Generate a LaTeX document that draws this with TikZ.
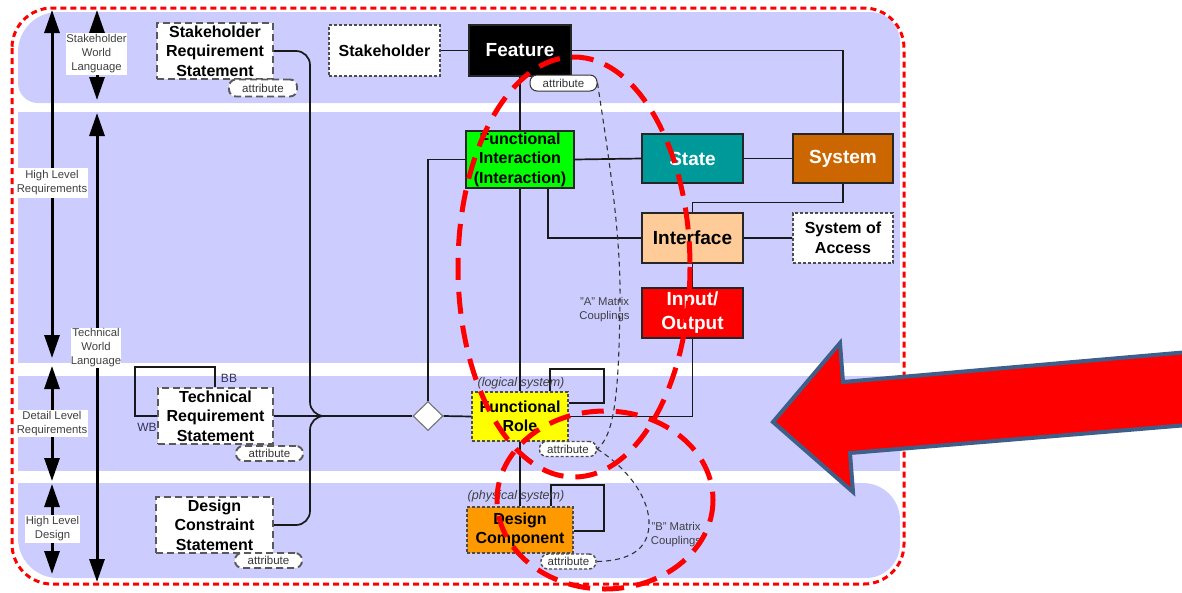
\documentclass[tikz,border=0pt]{standalone}
\usepackage{fontspec}
\setmainfont{Liberation Sans}
\usetikzlibrary{arrows.meta,shapes.geometric,calc}
\definecolor{bandc}{HTML}{CCCCFF}
\definecolor{fgreen}{HTML}{00FF00}
\definecolor{fteal}{HTML}{009999}
\definecolor{fbrown}{HTML}{CC6600}
\definecolor{fpeach}{HTML}{FFCC99}
\definecolor{forange}{HTML}{FF9900}
\definecolor{fyellow}{HTML}{FFFF00}
\definecolor{steel}{HTML}{3E5F8A}
\definecolor{labgray}{HTML}{404040}
\definecolor{slate}{HTML}{333355}
\newcommand\boxtxt{\fontsize{16}{19.5}\selectfont\bfseries}
\newcommand\hugetxt{\fontsize{19}{24}\selectfont\bfseries}
\newcommand\smalltxt{\fontsize{11.3}{14}\selectfont}
\newcommand\attrtxt{\fontsize{11.5}{13}\selectfont}
\newcommand\ittxt{\fontsize{12.5}{14}\selectfont\itshape}
\begin{document}
\begin{tikzpicture}[x=1pt,y=-1pt,
  stdbox/.style={draw=black!85, line width=1.1pt, inner sep=0pt, align=center, font=\boxtxt},
  bigtxt/.style={font=\hugetxt},
  dashbig/.style={draw=black!65, line width=1.9pt, dash pattern=on 7pt off 4pt, fill=white},
  dashfine/.style={draw=black!70, line width=1.4pt, dash pattern=on 3pt off 2pt},
  pill/.style={rounded corners=7pt, inner sep=0pt, font=\attrtxt, text=black!80, fill=white},
  conn/.style={line width=1.7pt, draw=black!90},
  levarrow/.style={line width=3pt, {Triangle[length=23pt,width=15pt]}-{Triangle[length=23pt,width=15pt]}},
  lvlabel/.style={fill=white, inner sep=0pt, align=center, font=\smalltxt, text=labgray},
  redring/.style={draw=red, line width=5pt, dash pattern=on 22pt off 12pt},
  coupling/.style={draw=black!80, line width=1.1pt, dash pattern=on 5pt off 4pt},
  note/.style={inner sep=0pt, align=center, font=\smalltxt, text=labgray}]
\useasboundingbox (0,0) rectangle (1182,592);
\clip (0,0) rectangle (1182,592);

% level bands
\fill[bandc] (18,52) -- (18,83) arc(180:90:20) -- (900,103) -- (900,42) arc(0:-90:30) -- (58,12) arc(270:180:40) -- cycle;
\fill[bandc] (18,112) rectangle (900,363);
\fill[bandc] (18,376) rectangle (900,471);
\fill[bandc] (18,483) -- (18,538) arc(180:90:40) -- (866,578) arc(90:0:34) -- (900,520) arc(0:-90:37) -- cycle;

% outer boundary
\draw[red, line width=3pt, dash pattern=on 6pt off 4pt, rounded corners=40pt] (12,8) rectangle (904,584);

% level arrows
\coordinate (a1t) at (52,10);  \coordinate (a1b) at (52,358);
\coordinate (a2t) at (52,366); \coordinate (a2b) at (52,481);
\coordinate (a3t) at (52,484); \coordinate (a3b) at (52,574);
\coordinate (a4t) at (97,10);  \coordinate (a4b) at (97,100);
\coordinate (a5t) at (97,113); \coordinate (a5b) at (97,582);
\draw[levarrow] (a1t) -- (a1b);
\draw[levarrow] (a2t) -- (a2b);
\draw[levarrow] (a3t) -- (a3b);
\draw[levarrow] (a4t) -- (a4b);
\draw[levarrow] (a5t) -- (a5b);
\node[lvlabel, minimum width=61pt, minimum height=42pt] (lsw) at (96.5,54) {Stakeholder\\World\\Language};
\node[lvlabel, minimum width=72pt, minimum height=30pt] (lhr) at (52,183) {High Level\\Requirements};
\node[lvlabel, minimum width=50pt, minimum height=40pt] (ltw) at (96,347.5) {Technical\\World\\Language};
\node[lvlabel, minimum width=72pt, minimum height=27pt] (ldl) at (52,423.5) {Detail Level\\Requirements};
\node[lvlabel, minimum width=55pt, minimum height=28pt] (lhd) at (52.5,529) {High Level\\Design};

% element boxes
\node[stdbox, dashbig, minimum width=116pt, minimum height=56pt] (srs) at (215,51) {Stakeholder\\Requirement\\Statement};
\node[stdbox, dashfine, fill=white, minimum width=111pt, minimum height=51pt] (sh) at (384.5,50.5) {Stakeholder};
\node[stdbox, bigtxt, fill=black, text=white, minimum width=102pt, minimum height=51pt] (feat) at (520,50.5) {Feature};
\node[stdbox, fill=fgreen, minimum width=108pt, minimum height=57pt] (fi) at (520,159.5) {Functional\\Interaction\\(Interaction)};
\node[stdbox, bigtxt, fill=fteal, text=white, minimum width=101pt, minimum height=49pt] (state) at (692.5,158.5) {State};
\node[stdbox, bigtxt, fill=fbrown, text=white, minimum width=100pt, minimum height=49pt] (sys) at (843,158.5) {System};
\node[stdbox, bigtxt, fill=fpeach, minimum width=101pt, minimum height=50pt] (intf) at (692.5,238) {Interface};
\node[stdbox, dashfine, fill=white, minimum width=100pt, minimum height=50pt] (soa) at (843,238) {System of\\Access};
\node[stdbox, bigtxt, fill=red, text=white, minimum width=101pt, minimum height=50pt] (io) at (692.5,313) {Input/\\Output};
\node[stdbox, dashfine, fill=fyellow, minimum width=96pt, minimum height=49pt] (fr) at (520,416.5) {Functional\\Role};
\node[stdbox, dashbig, minimum width=115pt, minimum height=56pt] (trs) at (215.5,416) {Technical\\Requirement\\Statement};
\node[stdbox, dashbig, minimum width=117pt, minimum height=56pt] (dcs) at (214.5,525) {Design\\Constraint\\Statement};
\node[stdbox, dashfine, fill=forange, minimum width=106pt, minimum height=46pt] (dc) at (520,530) {Design\\Component};
\node[diamond, draw=black!55, fill=white, line width=1.1pt, minimum width=30pt, minimum height=29pt, inner sep=0pt] (dm) at (428,416) {};
\coordinate (jn) at (335,416);

% connectors
\draw[conn] (sh.east) -- (feat.west);
\draw[conn] (feat.east) -| (sys.north);
\draw[conn] (feat.south) -- (fi.north);
\draw[conn] (fi.east) -- (state.west);
\draw[conn] (state.east) -- (sys.west);
\draw[conn] (sys.south) -- ++(0,19) -| (intf.north);
\draw[conn] (fi.south -| 548,0) |- (intf.west);
\draw[conn] (intf.east) -- (soa.west);
\draw[conn] (intf.south) -- (io.north);
\draw[conn] (io.south) |- (fr.east);
\draw[conn] (fi.south) -- (fr.north);
\draw[conn] (fr.south) -- (dc.north);
\draw[conn] (dm.north) |- (fi.west);
\draw[conn] (trs.east) -- (dm.west);
\draw[conn] (dm.east) -- (fr.west);
\draw[conn, rounded corners=14pt] (srs.east) -- (310,51) -- (310,416) -- (jn);
\draw[conn, rounded corners=14pt] (dcs.east) -- (310,525) -- (310,416) -- (jn);
\draw[conn] (fr.north -| 550,0) -- (550,369) -- (604,369) -- (604,403) -- (fr.east |- 0,403);
\draw[conn] (dc.north -| 551,0) -- (551,485) -- (604,485) -- (604,531) -- (dc.east |- 0,531);
\draw[conn] (trs.north -| 215,0) -- (215,367) -- (135,367) -- (135,416) -- (trs.west);

% attributes
\node[pill, draw=black!80, line width=1pt, minimum width=67pt, minimum height=16pt] (fattr) at (563.5,83) {attribute};
\node[pill, dashbig, minimum width=68pt, minimum height=17pt] (srsattr) at (263,88) {attribute};
\node[pill, dashfine, minimum width=57pt, minimum height=15pt] (frattr) at (568,449) {attribute};
\node[pill, dashbig, minimum width=67pt, minimum height=15pt] (trsattr) at (269.5,453.5) {attribute};
\node[pill, dashbig, minimum width=67pt, minimum height=15pt] (dcsattr) at (268.5,560.5) {attribute};
\node[pill, dashfine, minimum width=55pt, minimum height=15pt] (dcattr) at (568.5,561.5) {attribute};

% small labels
\node[inner sep=0pt, font=\ittxt, text=labgray] (lgs) at (521,383) {(logical system)};
\node[inner sep=0pt, font=\ittxt, text=labgray] (phs) at (516,496) {(physical system)};
\node[inner sep=0pt, font=\fontsize{12}{14}\selectfont, text=slate] (bb) at (229,378) {BB};
\node[inner sep=0pt, font=\fontsize{12}{14}\selectfont, text=slate] (wb) at (147,427) {WB};
\node[note] (amc) at (604.5,310) {"A" Matrix\\Couplings};
\node[note] (bmc) at (676,535) {"B" Matrix\\Couplings};

% matrix couplings
\draw[coupling] (fattr.east) .. controls (606,140) and (621,230) .. (620,300) .. controls (619,390) and (615,435) .. (frattr.east);
\draw[coupling] (frattr.east) .. controls (630,470) and (650,500) .. (649,525) .. controls (648,555) and (620,561) .. (dcattr.east);

% highlight rings
\draw[redring] (574,267) ellipse [x radius=116, y radius=210];
\draw[redring] (605,500) ellipse [x radius=108, y radius=89];

% pointer arrow
\draw[steel, line width=4pt, fill=red, line join=miter] (773,422) -- (840,343) -- (843,382) -- (1200,351) -- (1200,424) -- (850,453) -- (853,492) -- cycle;
\end{tikzpicture}
\end{document}
